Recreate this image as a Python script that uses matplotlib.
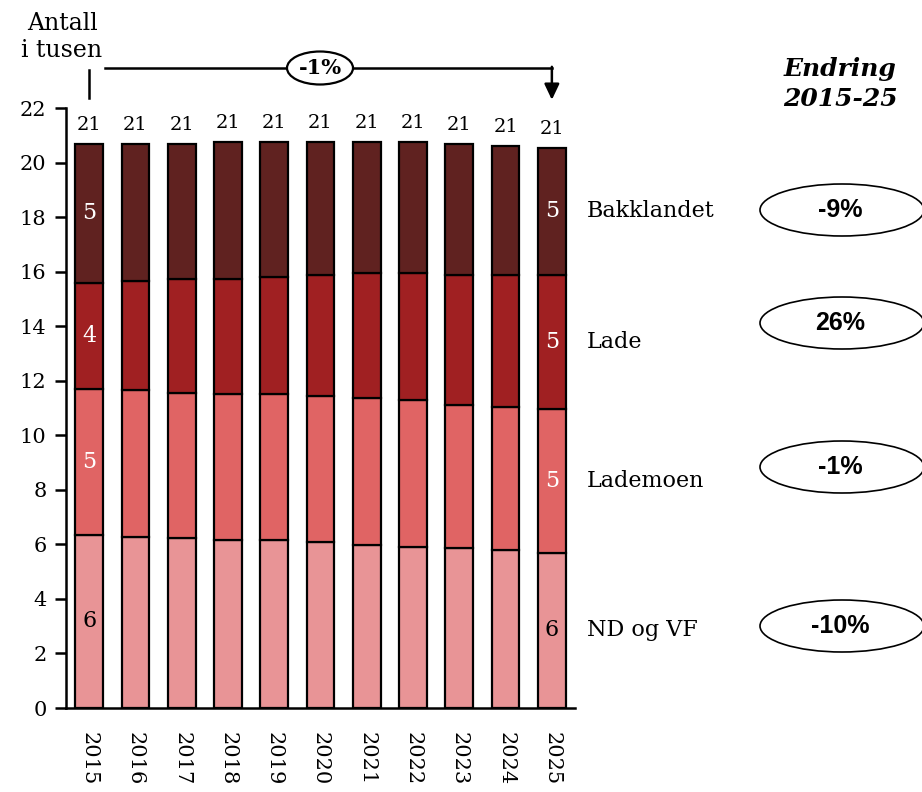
import matplotlib.pyplot as plt
from matplotlib.patches import Ellipse
from matplotlib import font_manager
import numpy as np

years = [str(y) for y in range(2015, 2026)]
nd_og_vf = [6.36, 6.28, 6.22, 6.15, 6.15, 6.07, 5.99, 5.91, 5.85, 5.78, 5.69]
lademoen = [5.35, 5.37, 5.33, 5.35, 5.35, 5.36, 5.36, 5.37, 5.27, 5.26, 5.29]
lade = [3.89, 4.02, 4.18, 4.23, 4.30, 4.46, 4.60, 4.67, 4.77, 4.85, 4.91]
bakklandet = [5.07, 5.00, 4.94, 5.01, 4.94, 4.85, 4.79, 4.79, 4.78, 4.70, 4.63]
series_names = ["ND og VF", "Lademoen", "Lade", "Bakklandet"]
changes = ["-10%", "-1%", "26%", "-9%"]
total_change = "-1%"

colors = ["#E89496", "#E06464", "#A02022", "#602220"]
inner_text_colors = ["black", "white", "white", "white"]
# vertical centre (px from top) of the change ellipses on the right
ellipse_y_px = [626, 467, 323, 210]

W, H = 922, 792
plt.rcParams["font.family"] = "DejaVu Serif"

# bold Arial-like font for the percent ellipses (avoid the Narrow variant)
sans_bold = None
for f in font_manager.fontManager.ttflist:
    if f.name == "Liberation Sans" and f.weight in (700, "bold") \
            and f.style == "normal" and "Narrow" not in f.fname:
        sans_bold = font_manager.FontProperties(fname=f.fname, size=18)
        break
if sans_bold is None:
    sans_bold = font_manager.FontProperties(family="DejaVu Sans",
                                            weight="bold", size=17)

fig = plt.figure(figsize=(W / 100, H / 100), dpi=100)
ax = fig.add_axes([66 / W, 1 - 708 / H, (575 - 66) / W, (708 - 108) / H])


def fig_xy(x, y):
    return x / W, 1 - y / H


x = np.arange(len(years))
data = [nd_og_vf, lademoen, lade, bakklandet]
bottom = np.zeros(len(years))
for vals, col, tcol, name in zip(data, colors, inner_text_colors, series_names):
    vals = np.array(vals)
    ax.bar(x, vals, 0.6, bottom=bottom, color=col, edgecolor="black",
           linewidth=1.6, zorder=3)
    for i in (0, len(years) - 1):
        ax.text(x[i], bottom[i] + vals[i] / 2, "{:.0f}".format(vals[i]),
                ha="center", va="center", color=tcol, fontsize=16, zorder=4)
    ax.text(10.75, bottom[-1] + vals[-1] / 2, name, ha="left", va="center",
            fontsize=16, clip_on=False)
    bottom = bottom + vals

for xi, tot in zip(x, bottom):
    ax.text(xi, tot + 0.72, "{:.0f}".format(tot), ha="center", va="center",
            fontsize=14)

ax.set_xlim(-0.5, 10.5)
ax.set_ylim(0, 22)
ax.set_yticks(np.arange(0, 23, 2))
ax.set_xticks(x)
ax.set_xticklabels(years, rotation=270, fontsize=15)
ax.tick_params(axis="x", length=0, pad=17)
ax.tick_params(axis="y", length=8, width=1.8, labelsize=15, pad=6)
for s in ["top", "right"]:
    ax.spines[s].set_visible(False)
for s in ["left", "bottom"]:
    ax.spines[s].set_linewidth(1.8)

# bracket showing total change
y_line = 23.48
ax.plot([0, 0], [22.38, 23.41], color="black", lw=1.8, clip_on=False)
ax.plot([0.35, 10], [y_line, y_line], color="black", lw=1.8, clip_on=False)
ax.annotate("", xy=(10, 22.3), xytext=(10, y_line + 0.03),
            arrowprops=dict(arrowstyle="-|>,head_width=0.45,head_length=0.95",
                            color="black", lw=1.8, shrinkA=0, shrinkB=0),
            annotation_clip=False)
cx, cy = fig_xy(320, 68)
fig.patches.append(Ellipse((cx, cy), 66 / W, 33 / H, transform=fig.transFigure,
                           facecolor="white", edgecolor="black", lw=1.6,
                           zorder=5))
fig.text(cx, cy, total_change, ha="center", va="center", fontsize=15,
         fontweight="bold", zorder=6)

fig.text(*fig_xy(62, 37), "Antall\ni tusen", ha="center", va="center",
         fontsize=17, linespacing=1.2)
fig.text(*fig_xy(840, 84), "Endring\n2015-25", ha="center", va="center",
         fontsize=18, fontweight="bold", fontstyle="italic", linespacing=1.35)

for ch, ey in zip(changes, ellipse_y_px):
    ex, eyf = fig_xy(842, ey)
    fig.patches.append(Ellipse((ex, eyf), 164 / W, 52 / H,
                               transform=fig.transFigure, facecolor="white",
                               edgecolor="black", lw=1.2))
    fig.text(ex - 2 / W, eyf, ch, ha="center", va="center",
             fontproperties=sans_bold)

fig.savefig("out.png", dpi=100)
